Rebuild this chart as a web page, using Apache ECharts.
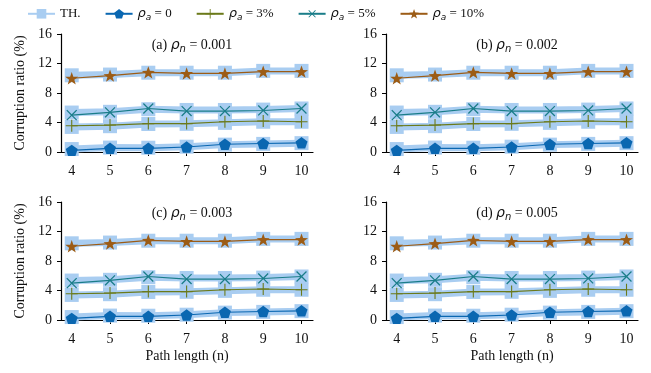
<!DOCTYPE html>
<html>
<head>
<meta charset="utf-8">
<script src="https://cdn.jsdelivr.net/npm/echarts@6/dist/echarts.min.js"></script>
<style>
  html, body { margin: 0; padding: 0; background: #fff; }
  #chart { width: 651px; height: 373px; }
</style>
</head>
<body>
<div id="chart"></div>
<script>
// path lengths on the x axis
const pathLength = [4, 5, 6, 7, 8, 9, 10]

// measured corruption ratio (%), same in every panel
const rate0 = [0.22, 0.5, 0.5, 0.68, 1.05, 1.15, 1.25]
const rate3 = [3.56, 3.65, 3.85, 3.85, 4.1, 4.2, 4.1]
const rate5 = [5.0, 5.38, 5.9, 5.55, 5.55, 5.63, 5.9]
const rate10 = [10.0, 10.35, 10.8, 10.65, 10.65, 10.9, 10.9]

// theoretical values (TH.)
const th0 = [0.4, 0.6, 0.58, 0.72, 1.0, 1.1, 1.2]
const th3 = [3.4, 3.5, 3.8, 3.82, 3.95, 4.1, 4.1]
const th5 = [5.35, 5.45, 5.8, 5.7, 5.7, 5.75, 5.9]
const th10 = [10.4, 10.5, 10.75, 10.75, 10.75, 11.0, 11.0]

const panelTitles = ['(a)', '(b)', '(c)', '(d)']
const panelRhoN = ['0.001', '0.002', '0.003', '0.005']

const grids = [
  { left: 61, top: 34, width: 252, height: 118 },
  { left: 386, top: 34, width: 252, height: 118 },
  { left: 61, top: 202, width: 252, height: 118 },
  { left: 386, top: 202, width: 252, height: 118 },
]

const serif = 'Liberation Serif'
const thColor = '#a9cdf1'

const pentagon = 'path://M0,-10 L9.51,-3.09 L5.88,8.09 L-5.88,8.09 L-9.51,-3.09 Z'
const star = 'path://M0,-10 L2.35,-3.24 L9.51,-3.09 L3.8,1.24 L5.88,8.09 L0,4 L-5.88,8.09 L-3.8,1.24 L-9.51,-3.09 L-2.35,-3.24 Z'
const plus = 'path://M-0.9,-10 L0.9,-10 L0.9,-0.9 L10,-0.9 L10,0.9 L0.9,0.9 L0.9,10 L-0.9,10 L-0.9,0.9 L-10,0.9 L-10,-0.9 L-0.9,-0.9 Z'

const groups = [
  { name: '0', data: rate0, th: th0, color: '#0a67b1', symbol: pentagon, size: 12, rotate: 0 },
  { name: '3%', data: rate3, th: th3, color: '#6b7a1a', symbol: plus, size: 12, rotate: 0 },
  { name: '5%', data: rate5, th: th5, color: '#1a7d89', symbol: plus, size: 14, rotate: 45 },
  { name: '10%', data: rate10, th: th10, color: '#9c5c16', symbol: star, size: 13, rotate: 0 },
]

function makeRich(size) {
  return {
    t: { fontFamily: serif, fontSize: size, fontWeight: 'normal', color: '#111' },
    r: { fontFamily: 'DejaVu Sans', fontStyle: 'italic', fontWeight: 'normal', fontSize: size, color: '#111' },
    s: { fontFamily: 'DejaVu Sans', fontStyle: 'italic', fontWeight: 'normal', fontSize: size - 4, color: '#111', padding: [7, 0, 0, 0] },
  }
}

function pairs(values) {
  return values.map((v, i) => [pathLength[i], v])
}

let xAxes = []
let yAxes = []
let titles = []
let series = []

grids.forEach((g, k) => {
  const bottomRow = k >= 2
  const leftCol = k % 2 === 0
  xAxes.push({
    gridIndex: k,
    type: 'value',
    min: 3.72,
    max: 10.3,
    offset: 1,
    name: bottomRow ? 'Path length (n)' : '',
    nameLocation: 'middle',
    nameGap: 28,
    nameTextStyle: { fontFamily: serif, fontSize: 14, color: '#111' },
    axisLine: { lineStyle: { color: '#000', width: 1.2 } },
    axisTick: { length: 4, customValues: pathLength, lineStyle: { color: '#000' } },
    axisLabel: { customValues: pathLength, margin: 11, fontFamily: serif, fontSize: 14, color: '#111' },
    splitLine: { show: false },
  })
  yAxes.push({
    gridIndex: k,
    type: 'value',
    min: 0,
    max: 16,
    interval: 4,
    name: leftCol ? 'Corruption ratio (%)' : '',
    nameLocation: 'middle',
    nameGap: 34,
    nameTextStyle: { fontFamily: serif, fontSize: 14, color: '#111' },
    axisLine: { show: true, lineStyle: { color: '#000', width: 1.2 } },
    axisTick: { show: true, length: 4, lineStyle: { color: '#000' } },
    axisLabel: { margin: 9, fontFamily: serif, fontSize: 14, color: '#111' },
    splitLine: { show: false },
  })
  titles.push({
    text: '{t|' + panelTitles[k] + ' }{r|ρ}{s|n}{t| = ' + panelRhoN[k] + '}',
    left: g.left + g.width / 2,
    top: g.top - 2,
    textAlign: 'center',
    textStyle: { fontWeight: 'normal', rich: makeRich(14) },
  })
  groups.forEach((grp) => {
    series.push({
      name: 'TH.',
      type: 'line',
      xAxisIndex: k,
      yAxisIndex: k,
      data: pairs(grp.th),
      symbol: 'rect',
      symbolSize: 14,
      z: 1,
      itemStyle: { color: thColor },
      lineStyle: { color: thColor, width: 7 },
      silent: true,
    })
  })
  groups.forEach((grp) => {
    series.push({
      name: grp.name,
      type: 'line',
      xAxisIndex: k,
      yAxisIndex: k,
      data: pairs(grp.data),
      symbol: grp.symbol,
      symbolSize: grp.size,
      symbolRotate: grp.rotate,
      symbolKeepAspect: true,
      z: 3,
      itemStyle: { color: grp.color },
      lineStyle: { color: grp.color, width: 1.2 },
    })
  })
})

const chart = echarts.init(document.getElementById('chart'))
let option = {
  animation: false,
  backgroundColor: '#fff',
  title: titles,
  legend: {
    left: 22,
    top: 2,
    itemWidth: 27,
    itemHeight: 12,
    itemGap: 24,
    data: ['TH.'].concat(groups.map((g) => g.name)),
    formatter: (name) => (name === 'TH.' ? '{t|TH.}' : '{r|ρ}{s|a}{t| = ' + name + '}'),
    textStyle: { rich: makeRich(13) },
  },
  grid: grids,
  xAxis: xAxes,
  yAxis: yAxes,
  series: series,
}
chart.setOption(option)
</script>
</body>
</html>
